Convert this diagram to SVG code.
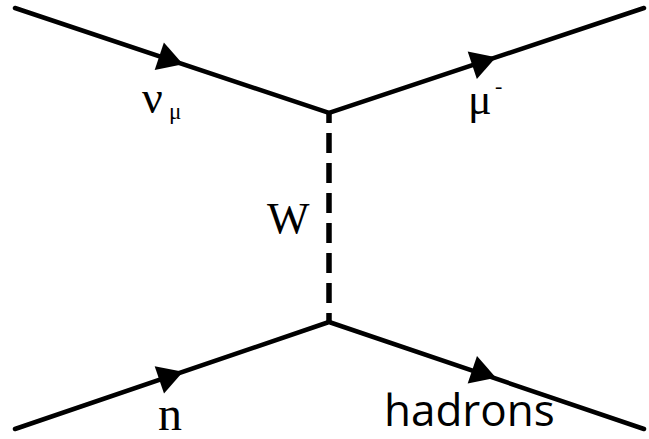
<svg xmlns="http://www.w3.org/2000/svg" xmlns:xlink="http://www.w3.org/1999/xlink" width="649" height="439" viewBox="0 0 649 439">
  <style>
    .fermion { fill: none; stroke: #000; stroke-width: 4.5; stroke-linecap: round; stroke-linejoin: miter; }
    .boson { fill: none; stroke: #000; stroke-width: 5.5; stroke-dasharray: 20 10; stroke-dashoffset: 10; }
    .serif { font-family: "Liberation Serif", "DejaVu Serif", serif; fill: #000; }
    .sans { font-family: "Open Sans", "Noto Sans", "Liberation Sans", sans-serif; fill: #000; }
  </style>
  <defs>
    <!-- arrowhead with its tip at the origin, pointing along +x -->
    <polygon id="arrowhead" points="0,0 -25,-14.5 -25,14.5" fill="#000"/>
  </defs>
  <rect width="649" height="439" fill="#fff"/>

  <g id="connectors">
    <!-- upper fermion line: neutrino in, muon out -->
    <path class="fermion" d="M15,8 L329,113 L644,8"/>
    <!-- lower fermion line: neutron in, hadrons out -->
    <path class="fermion" d="M15,429 L329,322 L644,429"/>
    <!-- W boson propagator -->
    <path class="boson" d="M329,113 V322"/>
    <use xlink:href="#arrowhead" transform="translate(183,64.2) rotate(18.49)"/>
    <use xlink:href="#arrowhead" transform="translate(496,57.3) rotate(-18.43)"/>
    <use xlink:href="#arrowhead" transform="translate(183,371.8) rotate(-18.82)"/>
    <use xlink:href="#arrowhead" transform="translate(496,377.7) rotate(18.76)"/>
  </g>

  <g id="label-numu">
    <text class="serif" x="142" y="113" font-size="46">ν</text>
    <text class="serif" x="169" y="119" font-size="23">μ</text>
  </g>
  <g id="label-muon">
    <text class="serif" x="468" y="114" font-size="44">μ</text>
    <text class="serif" x="495" y="93" font-size="22">-</text>
  </g>
  <g id="label-w">
    <text class="serif" x="267" y="233" font-size="45">W</text>
  </g>
  <g id="label-n">
    <text class="serif" x="158" y="430" font-size="48">n</text>
  </g>
  <g id="label-hadrons">
    <text class="sans" x="384" y="426" font-size="44">hadrons</text>
  </g>
</svg>
